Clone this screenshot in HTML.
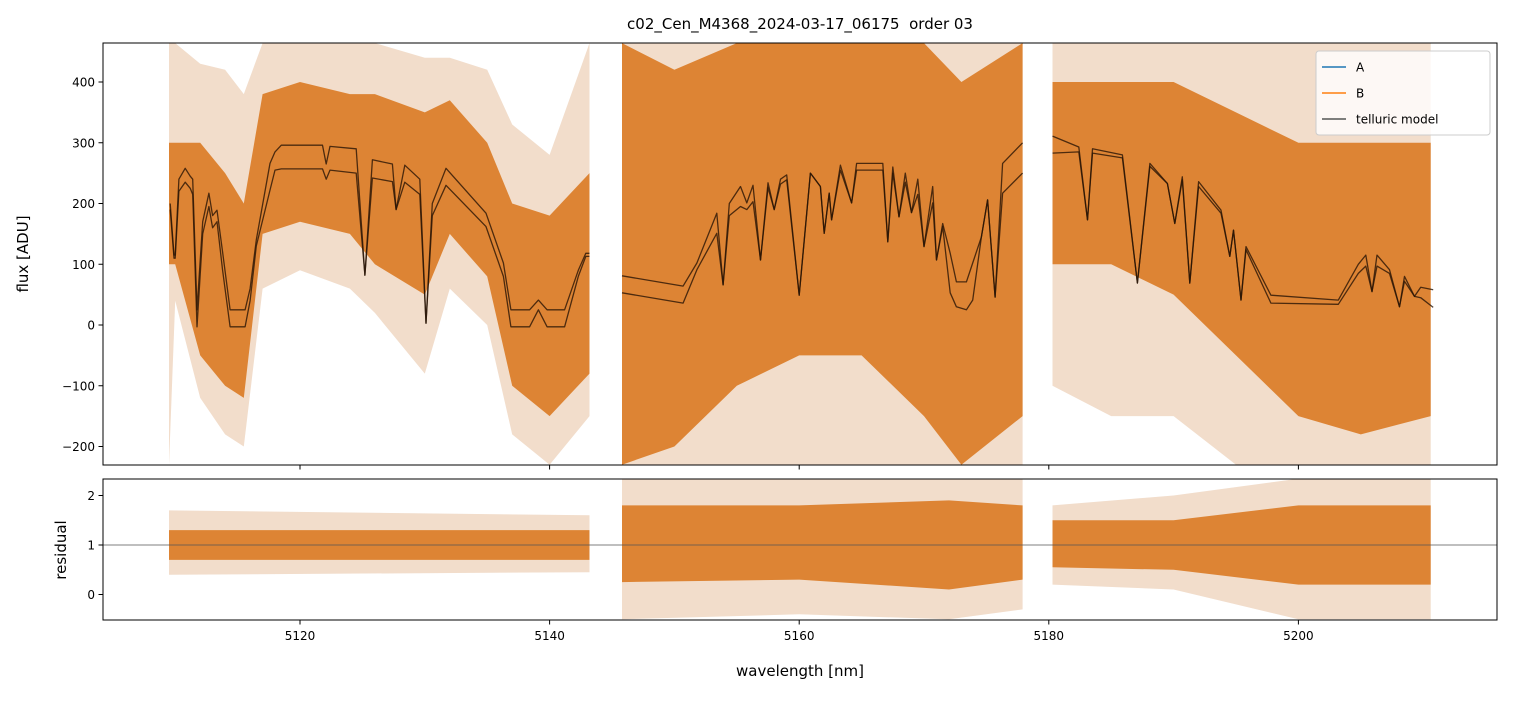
<!DOCTYPE html>
<html><head><meta charset="utf-8"><style>
body{margin:0;background:#fff;font-family:"Liberation Sans","DejaVu Sans",sans-serif;position:relative}
svg text{font-family:"DejaVu Sans","Liberation Sans",sans-serif;fill:#000}
</style></head><body>
<svg id="c" width="1513" height="696" viewBox="0 0 1513 696" xmlns="http://www.w3.org/2000/svg">
<defs>
<clipPath id="clipTop"><rect x="103" y="43" width="1394" height="422"/></clipPath>
<clipPath id="clipBot"><rect x="103" y="479" width="1394" height="141"/></clipPath>
</defs>
<rect width="1513" height="696" fill="#fff"/>
<text x="800" y="29" text-anchor="middle" font-size="15" style="white-space:pre">c02_Cen_M4368_2024-03-17_06175  order 03</text>
<g id="topPanel" clip-path="url(#clipTop)"></g>
<g id="botPanel" clip-path="url(#clipBot)"></g>
<g id="axes"></g>
<text x="800" y="676" text-anchor="middle" font-size="15">wavelength [nm]</text>
<text transform="translate(28,254) rotate(-90)" text-anchor="middle" font-size="15">flux [ADU]</text>
<text transform="translate(66,550) rotate(-90)" text-anchor="middle" font-size="15">residual</text>
<g>
<rect x="1316" y="51" width="174" height="84" rx="3" fill="rgba(255,255,255,0.8)" stroke="#ccc"/>
<line x1="1322" x2="1346" y1="67" y2="67" stroke="#1f77b4" stroke-width="1.5"/>
<text x="1356" y="71.5" font-size="12">A</text>
<line x1="1322" x2="1346" y1="93" y2="93" stroke="#ff7f0e" stroke-width="1.5"/>
<text x="1356" y="97.5" font-size="12">B</text>
<line x1="1322" x2="1346" y1="119" y2="119" stroke="#555" stroke-width="1.5"/>
<text x="1356" y="123.5" font-size="12">telluric model</text>
</g>
</svg>
<script>
// ---- data ----
const xTicks=[5120,5140,5160,5180,5200];
const yTicksTop=[-200,-100,0,100,200,300,400];
const yTicksBot=[0,1,2];
const m1w=[5109.6,5109.9,5110.0,5110.3,5110.8,5111.2,5111.4,5111.75,5112.2,5112.7,5113.0,5113.35,5113.8,5114.4,5115.6,5116.0,5116.5,5117.6,5118.0,5118.5,5121.8,5122.1,5122.4,5124.5,5125.2,5125.8,5127.4,5127.7,5128.4,5129.6,5130.1,5130.6,5131.7,5134.9,5136.3,5136.9,5138.4,5139.1,5139.8,5141.2,5142.3,5142.9,5143.2];
const m1u=[200,115,115,240,258,245,240,25,170,217,180,189,120,25,25,60,140,266,285,296,296,265,294,290,82,272,265,190,263,240,3,200,258,184,102,25,25,41,25,25,90,118,118];
const m1l=[190,110,110,220,235,225,215,-3,150,195,160,170,90,-3,-3,40,130,222,255,257,257,240,255,250,82,242,236,190,235,215,3,180,230,162,80,-3,-3,25,-3,-3,80,113,113];
const m2w=[5145.8,5150.7,5151.8,5153.4,5153.9,5154.4,5155.3,5155.8,5156.3,5156.9,5157.5,5158.0,5158.5,5159.0,5160.0,5160.9,5161.7,5162.0,5162.4,5162.6,5163.3,5164.2,5164.6,5166.7,5167.1,5167.5,5168.0,5168.5,5169.0,5169.5,5170.0,5170.7,5171.0,5171.5,5172.1,5172.6,5173.4,5173.9,5174.6,5175.1,5175.7,5176.3,5177.9];
const m2u=[81,64,102,184,66,200,228,201,230,107,234,190,240,247,49,250,228,151,217,173,263,201,266,266,137,260,178,250,185,240,129,228,107,167,118,71,71,102,145,206,46,266,300];
const m2l=[53,36,91,151,66,180,195,190,203,107,226,190,232,239,49,250,228,151,217,173,255,201,255,255,137,250,178,235,185,215,129,201,107,162,53,30,25,41,145,206,46,217,250];
const m3w=[5180.3,5182.4,5183.1,5183.5,5185.9,5187.1,5188.1,5189.5,5190.1,5190.7,5191.3,5192.0,5193.8,5194.5,5194.8,5195.4,5195.8,5197.8,5203.2,5204.8,5205.4,5205.9,5206.3,5207.3,5208.1,5208.5,5209.3,5209.8,5210.8];
const m3u=[311,293,173,290,280,69,266,233,167,244,69,236,189,113,156,41,129,49,41,100,115,55,115,91,30,80,47,62,58];
const m3l=[283,285,173,283,275,69,261,233,167,239,69,228,184,113,156,41,124,36,34,85,97,55,97,85,30,72,47,45,29];
const b1w=[5109.5,5110,5112,5114,5115.5,5117,5120,5124,5126,5130,5132,5135,5137,5140,5143.2];
const b1hi=[300,300,300,250,200,380,400,380,380,350,370,300,200,180,250];
const b1lo=[100,100,-50,-100,-120,150,170,150,100,50,150,80,-100,-150,-80];
const s1hi=[464,464,430,420,380,464,464,464,464,440,440,420,330,280,464];
const s1lo=[-230,40,-120,-180,-200,60,90,60,20,-80,60,0,-180,-230,-150];
const b2w=[5145.8,5150,5155,5160,5165,5170,5173,5177.9];
const b2hi=[464,420,464,464,464,464,400,464];
const b2lo=[-230,-200,-100,-50,-50,-150,-230,-150];
const s2hi=[464,464,464,464,464,464,464,464];
const s2lo=[-230,-230,-230,-230,-230,-230,-230,-230];
const b3w=[5180.3,5185,5190,5195,5200,5205,5210.6];
const b3hi=[400,400,400,350,300,300,300];
const b3lo=[100,100,50,-50,-150,-180,-150];
const s3hi=[464,464,464,464,464,464,464];
const s3lo=[-100,-150,-150,-230,-230,-230,-230];
const r1w=[5109.5,5143.2]; const r1hi=[1.3,1.3]; const r1lo=[0.7,0.7]; const rs1hi=[1.7,1.6]; const rs1lo=[0.4,0.45];
const r2w=[5145.8,5160,5172,5177.9]; const r2hi=[1.8,1.8,1.9,1.8]; const r2lo=[0.25,0.3,0.1,0.3]; const rs2hi=[2.34,2.34,2.34,2.34]; const rs2lo=[-0.5,-0.4,-0.5,-0.3];
const r3w=[5180.3,5190,5200,5210.6]; const r3hi=[1.5,1.5,1.8,1.8]; const r3lo=[0.55,0.5,0.2,0.2]; const rs3hi=[1.8,2.0,2.34,2.34]; const rs3lo=[0.2,0.1,-0.5,-0.5];

(function(){
const NS="http://www.w3.org/2000/svg";
const X=w=>300+(w-5120)*12.48;
const Y=v=>325-v*0.6075;
const YR=r=>545-(r-1)*49.5;
function mk(tag,attrs,parent){const e=document.createElementNS(NS,tag);for(const k in attrs)e.setAttribute(k,attrs[k]);parent.appendChild(e);return e;}
const topG=document.getElementById('topPanel'),botG=document.getElementById('botPanel'),axes=document.getElementById('axes');

function band(ws,hi,lo,yf,fill,parent,name){
  let d='M'+ws.map((w,i)=>X(w).toFixed(1)+','+yf(hi[i]).toFixed(1)).join('L');
  for(let i=ws.length-1;i>=0;i--)d+='L'+X(ws[i]).toFixed(1)+','+yf(lo[i]).toFixed(1);
  const p=mk('path',{d:d+'Z',fill:fill},parent);
  
  
}
function line(ws,vs,yf,stroke,wd,parent,name){
  const p=mk('path',{d:'M'+ws.map((w,i)=>X(w).toFixed(1)+','+yf(vs[i]).toFixed(1)).join('L'),fill:'none',stroke:stroke,'stroke-width':wd,'stroke-linejoin':'round'},parent);
  
  
}
[[b1w,b1hi,b1lo,s1hi,s1lo],[b2w,b2hi,b2lo,s2hi,s2lo],[b3w,b3hi,b3lo,s3hi,s3lo]].forEach((s,i)=>{
  band(s[0],s[3],s[4],Y,'rgba(31,119,180,0.07)',topG,'series-a-spikes-seg'+(i+1));
  band(s[0],s[3],s[4],Y,'rgba(255,127,14,0.2)',topG,'series-b-spikes-seg'+(i+1));
  band(s[0],s[1],s[2],Y,'#dd8434',topG,'series-ab-core-seg'+(i+1));
});
[[m1w,m1u,m1l],[m2w,m2u,m2l],[m3w,m3u,m3l]].forEach((s,i)=>{
  line(s[0],s[1],Y,'rgba(40,20,5,0.8)',1.3,topG,'telluric-upper-seg'+(i+1));
  line(s[0],s[2],Y,'rgba(40,20,5,0.8)',1.3,topG,'telluric-lower-seg'+(i+1));
});
[[r1w,r1hi,r1lo,rs1hi,rs1lo],[r2w,r2hi,r2lo,rs2hi,rs2lo],[r3w,r3hi,r3lo,rs3hi,rs3lo]].forEach((s,i)=>{
  band(s[0],s[3],s[4],YR,'rgba(31,119,180,0.07)',botG,'residual-a-spikes-seg'+(i+1));
  band(s[0],s[3],s[4],YR,'rgba(255,127,14,0.2)',botG,'residual-b-spikes-seg'+(i+1));
  band(s[0],s[1],s[2],YR,'#dd8434',botG,'residual-core-seg'+(i+1));
});
const ref=mk('line',{x1:103,x2:1497,y1:YR(1),y2:YR(1),stroke:'#555','stroke-width':0.8},botG);



const f1=mk('rect',{x:103,y:43,width:1394,height:422,fill:'none',stroke:'#000','stroke-width':1},axes);


const f2=mk('rect',{x:103,y:479,width:1394,height:141,fill:'none',stroke:'#000','stroke-width':1},axes);


xTicks.forEach(t=>{
  const x=X(t);
  mk('line',{x1:x,x2:x,y1:465,y2:469.5,stroke:'#000'},axes);
  mk('line',{x1:x,x2:x,y1:620,y2:624.5,stroke:'#000'},axes);
  const tx=mk('text',{x:x,y:640,'text-anchor':'middle','font-size':12},axes);
  tx.textContent=t;
  
  
});
yTicksTop.forEach(t=>{
  const y=Y(t);
  mk('line',{x1:98.5,x2:103,y1:y,y2:y,stroke:'#000'},axes);
  const tx=mk('text',{x:95,y:y+4.5,'text-anchor':'end','font-size':12},axes);
  tx.textContent=t<0?'\u2212'+(-t):t;
  
  
});
yTicksBot.forEach(t=>{
  const y=YR(t);
  mk('line',{x1:98.5,x2:103,y1:y,y2:y,stroke:'#000'},axes);
  const tx=mk('text',{x:95,y:y+4.5,'text-anchor':'end','font-size':12},axes);
  tx.textContent=t;
  
  
});
})();
</script>
</body></html>
